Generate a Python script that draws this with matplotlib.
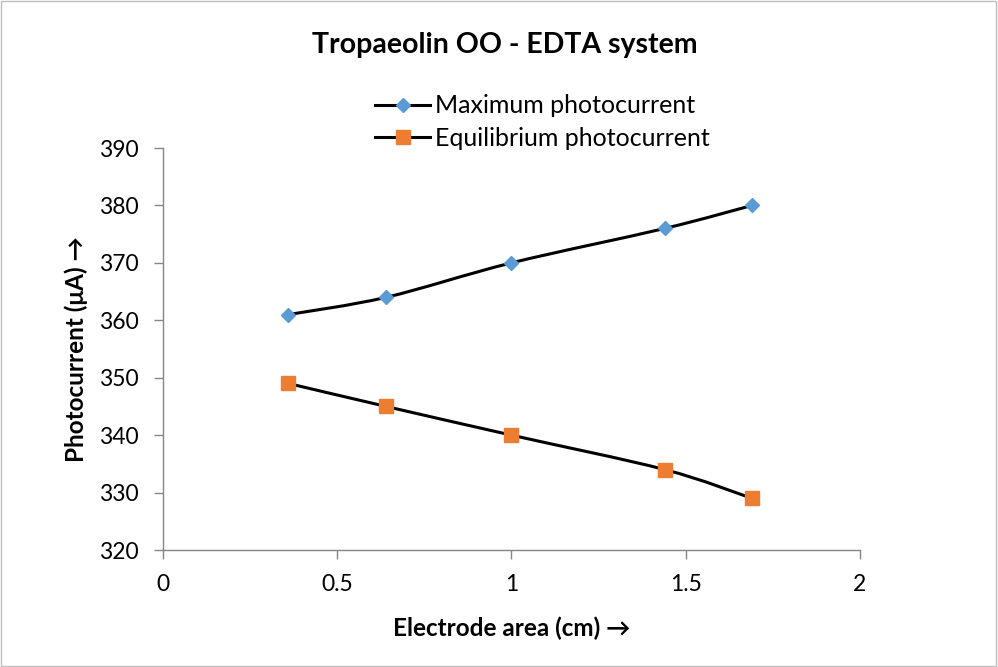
import matplotlib
matplotlib.use("Agg")
import matplotlib.pyplot as plt
from matplotlib.path import Path
from matplotlib.patches import PathPatch, Rectangle
from matplotlib.lines import Line2D

plt.rcParams['font.family'] = ['Lato', 'DejaVu Sans']

# data
area = [0.36, 0.64, 1.0, 1.44, 1.69]
max_current = [361, 364, 370, 376, 380]
eq_current = [349, 345, 340, 334, 329]

x_ticks = [0, 0.5, 1, 1.5, 2]
x_tick_labels = ['0', '0.5', '1', '1.5', '2']
y_ticks = [320, 330, 340, 350, 360, 370, 380, 390]

fig = plt.figure(figsize=(9.98, 6.67), dpi=100)
ax = fig.add_axes([0.1633, 0.1754, 0.8617 - 0.1633, 0.7781 - 0.1754])
ax.set_xlim(0, 2)
ax.set_ylim(320, 390)

# scale factors so smoothing happens in screen-like space (like Excel)
sx = 697 / 2.0
sy = 402 / 70.0


def smooth_path(xs, ys):
    px = [v * sx for v in xs]
    py = [v * sy for v in ys]
    n = len(px)
    verts = [(px[0], py[0])]
    codes = [Path.MOVETO]
    for i in range(n - 1):
        i0 = max(i - 1, 0)
        i3 = min(i + 2, n - 1)
        c1 = (px[i] + (px[i + 1] - px[i0]) / 6, py[i] + (py[i + 1] - py[i0]) / 6)
        c2 = (px[i + 1] - (px[i3] - px[i]) / 6, py[i + 1] - (py[i3] - py[i]) / 6)
        verts += [c1, c2, (px[i + 1], py[i + 1])]
        codes += [Path.CURVE4] * 3
    verts = [(a / sx, b / sy) for a, b in verts]
    return Path(verts, codes)


for ys in (max_current, eq_current):
    ax.add_patch(PathPatch(smooth_path(area, ys), facecolor='none',
                           edgecolor='black', lw=2.2, capstyle='round', zorder=2))

ax.plot(area, max_current, ls='none', marker='D', ms=7, color='#5B9BD5', zorder=3)
ax.plot(area, eq_current, ls='none', marker='s', ms=9.5, color='#ED7D31', zorder=3)

for s in ('top', 'right'):
    ax.spines[s].set_visible(False)
for s in ('left', 'bottom'):
    ax.spines[s].set_color('#868686')
    ax.spines[s].set_linewidth(1)

ax.set_xticks(x_ticks)
ax.set_xticklabels(x_tick_labels)
ax.set_yticks(y_ticks)
ax.tick_params(direction='out', length=6.5, width=1, color='#868686',
               labelsize=16.5)
ax.tick_params(axis='y', pad=11)
ax.tick_params(axis='x', pad=11)

ax.set_xlabel('Electrode area (cm) \u2192', fontsize=17.5, fontweight='bold', labelpad=15)
ax.set_ylabel('Photocurrent (\u03bcA) \u2192', fontsize=17.5, fontweight='bold', labelpad=8)

fig.text(0.506, 0.933, 'Tropaeolin OO - EDTA system', ha='center', va='center',
         fontsize=20.5, fontweight='bold')

handles = [
    Line2D([], [], color='black', lw=2.2, marker='D', ms=7,
           markerfacecolor='#5B9BD5', markeredgecolor='#5B9BD5'),
    Line2D([], [], color='black', lw=2.2, marker='s', ms=9.5,
           markerfacecolor='#ED7D31', markeredgecolor='#ED7D31'),
]
fig.legend(handles, ['Maximum photocurrent', 'Equilibrium photocurrent'],
           loc='center left', bbox_to_anchor=(375 / 998, 1 - 122 / 667), frameon=False,
           fontsize=18, handlelength=2.2, handletextpad=0.2, labelspacing=0.38,
           borderpad=0, borderaxespad=0)

fig.patches.append(Rectangle((0.001, 0.001), 0.997, 0.997, transform=fig.transFigure,
                             fill=False, edgecolor='#BFBFBF', lw=1))

fig.savefig('out.png', dpi=100)
